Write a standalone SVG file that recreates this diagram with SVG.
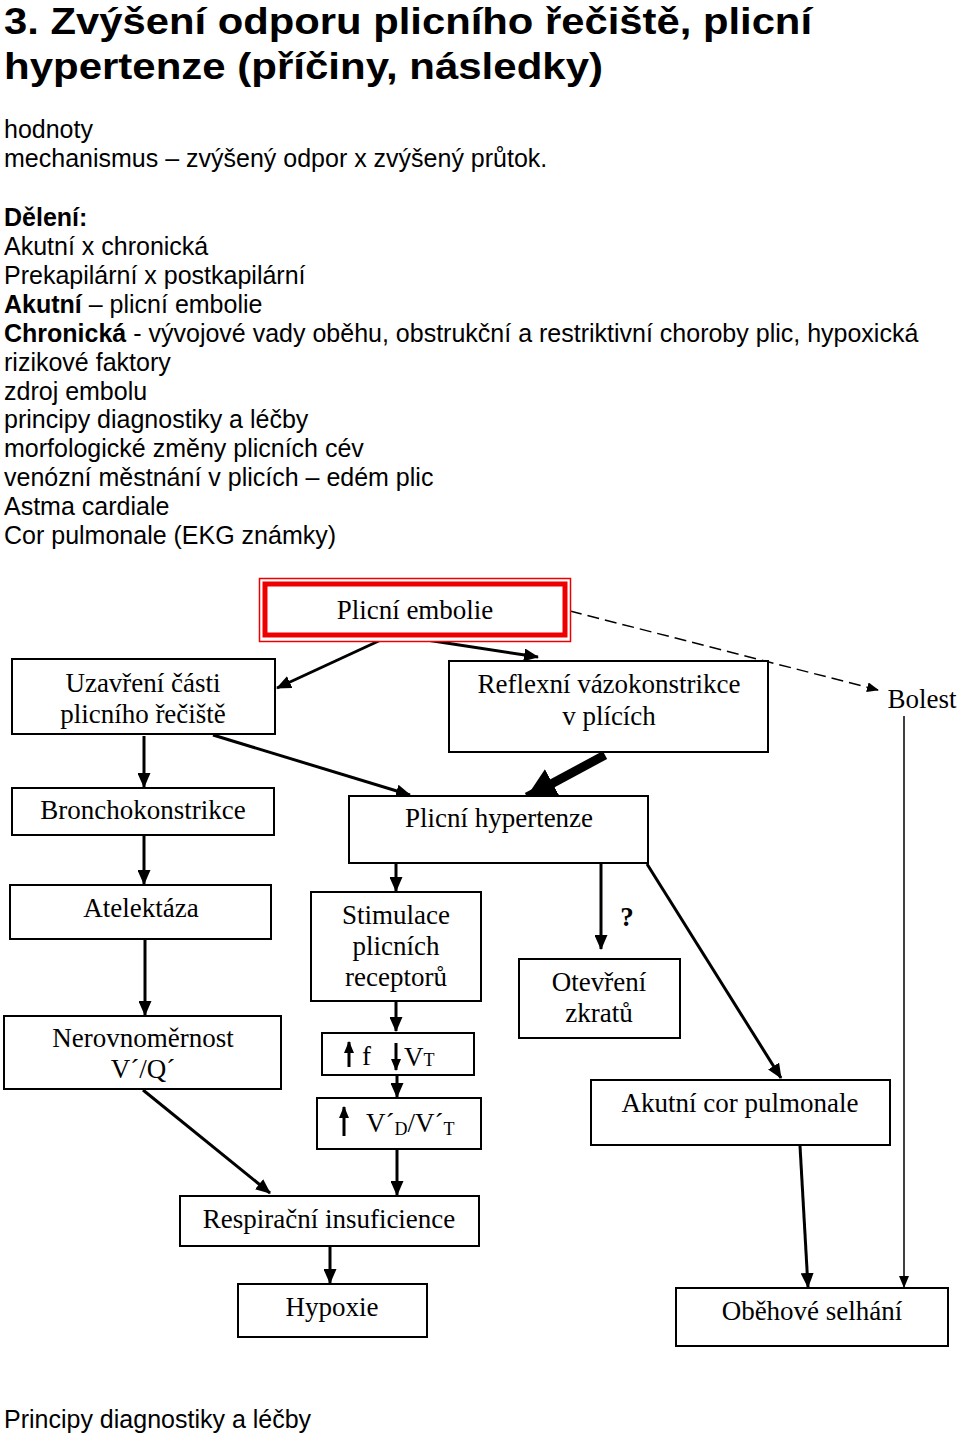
<svg xmlns="http://www.w3.org/2000/svg" width="960" height="1434" viewBox="0 0 960 1434">
<defs>
<style>
.h{font-family:"Liberation Sans",Arial,sans-serif;font-weight:bold;font-size:37px;fill:#000}
.b{font-family:"Liberation Sans",Arial,sans-serif;font-size:25px;fill:#000}
.bb{font-weight:bold}
.t{font-family:"Liberation Serif","Times New Roman",serif;font-size:27px;fill:#000;text-anchor:middle}
.box{fill:#fff;stroke:#000;stroke-width:2}
.c{fill:none;stroke:#000;stroke-width:3}
.thin{fill:none;stroke:#000;stroke-width:1.5}
</style>
<marker id="a" viewBox="0 0 15 13" refX="14" refY="6.5" markerWidth="15" markerHeight="13" markerUnits="userSpaceOnUse" orient="auto"><path d="M0,0 L15,6.5 L0,13 Z" fill="#000"/></marker>
<marker id="as" viewBox="0 0 12 10" refX="11" refY="5" markerWidth="12" markerHeight="10" markerUnits="userSpaceOnUse" orient="auto"><path d="M0,0 L12,5 L0,10 Z" fill="#000"/></marker>
<marker id="ab" viewBox="0 0 30 32" refX="29" refY="16" markerWidth="30" markerHeight="32" markerUnits="userSpaceOnUse" orient="auto"><path d="M0,0 L30,16 L0,32 Z" fill="#000"/></marker>
</defs>
<rect width="960" height="1434" fill="#fff"/>

<g id="header">
<text class="h" x="4" y="34" textLength="808" lengthAdjust="spacingAndGlyphs">3. Zvýšení odporu plicního řečiště, plicní</text>
<text class="h" x="4" y="79" textLength="599" lengthAdjust="spacingAndGlyphs">hypertenze (příčiny, následky)</text>
<text class="b" x="4" y="138">hodnoty</text>
<text class="b" x="4" y="167">mechanismus – zvýšený odpor x zvýšený průtok.</text>
<text class="b bb" x="4" y="226">Dělení:</text>
<text class="b" x="4" y="255">Akutní x chronická</text>
<text class="b" x="4" y="284">Prekapilární x postkapilární</text>
<text class="b" x="4" y="313"><tspan class="bb">Akutní</tspan> – plicní embolie</text>
<text class="b" x="4" y="342"><tspan class="bb">Chronická</tspan> - vývojové vady oběhu, obstrukční a restriktivní choroby plic, hypoxická</text>
<text class="b" x="4" y="371">rizikové faktory</text>
<text class="b" x="4" y="400">zdroj embolu</text>
<text class="b" x="4" y="428">principy diagnostiky a léčby</text>
<text class="b" x="4" y="457">morfologické změny plicních cév</text>
<text class="b" x="4" y="486">venózní městnání v plicích – edém plic</text>
<text class="b" x="4" y="515">Astma cardiale</text>
<text class="b" x="4" y="544">Cor pulmonale (EKG známky)</text>
<text class="b" x="4" y="1428">Principy diagnostiky a léčby</text>
</g>

<g id="connectors">
<line class="c" x1="383" y1="639" x2="277" y2="688" marker-end="url(#a)"/>
<line class="c" x1="420" y1="639" x2="538" y2="657" marker-end="url(#a)"/>
<line x1="570" y1="611" x2="878" y2="690" stroke="#000" stroke-width="1.5" stroke-dasharray="12,6" marker-end="url(#as)"/>
<line class="c" x1="213" y1="735" x2="410" y2="795" marker-end="url(#a)"/>
<line class="c" x1="144" y1="736" x2="144" y2="787" marker-end="url(#a)"/>
<line x1="605" y1="755" x2="527" y2="797" stroke="#000" stroke-width="9" marker-end="url(#ab)"/>
<line class="c" x1="144" y1="836" x2="144" y2="884" marker-end="url(#a)"/>
<line class="c" x1="145" y1="940" x2="145" y2="1015" marker-end="url(#a)"/>
<line class="c" x1="396" y1="864" x2="396" y2="891" marker-end="url(#a)"/>
<line class="c" x1="601" y1="864" x2="601" y2="949" marker-end="url(#a)"/>
<line class="c" x1="647" y1="864" x2="781" y2="1078" marker-end="url(#a)"/>
<line class="c" x1="396" y1="1002" x2="396" y2="1031" marker-end="url(#a)"/>
<line class="c" x1="397" y1="1076" x2="397" y2="1097" marker-end="url(#a)"/>
<line class="c" x1="397" y1="1150" x2="397" y2="1195" marker-end="url(#a)"/>
<line class="c" x1="143" y1="1090" x2="270" y2="1193" marker-end="url(#a)"/>
<line class="c" x1="330" y1="1247" x2="330" y2="1283" marker-end="url(#a)"/>
<line class="c" x1="800" y1="1146" x2="808" y2="1287" marker-end="url(#a)"/>
<line class="thin" x1="904" y1="716" x2="904" y2="1287" marker-end="url(#as)"/>
</g>

<g id="n-embolie">
<rect x="259.5" y="578.5" width="311" height="63" fill="#fff" stroke="#e00" stroke-width="1.5"/>
<rect x="265" y="584" width="300" height="51" fill="#fff" stroke="#e00" stroke-width="5"/>
<text class="t" x="415" y="619">Plicní embolie</text>
</g>
<g id="n-uzavreni">
<rect class="box" x="12" y="659" width="263" height="75"/>
<text class="t" x="143" y="692">Uzavření části</text>
<text class="t" x="143" y="723">plicního řečiště</text>
</g>
<g id="n-reflexni">
<rect class="box" x="449" y="661" width="319" height="91"/>
<text class="t" x="609" y="693">Reflexní vázokonstrikce</text>
<text class="t" x="609" y="725">v plících</text>
</g>
<g id="n-bolest">
<text class="t" x="922" y="708">Bolest</text>
</g>
<g id="n-broncho">
<rect class="box" x="12" y="788" width="262" height="47"/>
<text class="t" x="143" y="819">Bronchokonstrikce</text>
</g>
<g id="n-hypertenze">
<rect class="box" x="349" y="796" width="299" height="67"/>
<text class="t" x="499" y="827">Plicní hypertenze</text>
</g>
<g id="n-atelektaza">
<rect class="box" x="10" y="885" width="261" height="54"/>
<text class="t" x="141" y="917">Atelektáza</text>
</g>
<g id="n-stimulace">
<rect class="box" x="311" y="892" width="170" height="109"/>
<text class="t" x="396" y="924">Stimulace</text>
<text class="t" x="396" y="955">plicních</text>
<text class="t" x="396" y="986">receptorů</text>
</g>
<g id="n-q">
<text class="t" x="627" y="926" font-weight="bold">?</text>
</g>
<g id="n-otevreni">
<rect class="box" x="519" y="959" width="161" height="79"/>
<text class="t" x="599" y="991">Otevření</text>
<text class="t" x="599" y="1022">zkratů</text>
</g>
<g id="n-nerovnomernost">
<rect class="box" x="4" y="1016" width="277" height="73"/>
<text class="t" x="143" y="1047">Nerovnoměrnost</text>
<text class="t" x="143" y="1078">V´/Q´</text>
</g>
<g id="n-fvt">
<rect class="box" x="322" y="1033" width="152" height="42"/>
<line x1="349" y1="1067" x2="349" y2="1042" stroke="#000" stroke-width="3" marker-end="url(#as)"/>
<text class="t" x="362" y="1065" style="text-anchor:start">f</text>
<line x1="396" y1="1043" x2="396" y2="1070" stroke="#000" stroke-width="3" marker-end="url(#as)"/>
<text class="t" x="404" y="1066" style="text-anchor:start">V<tspan font-size="18">T</tspan></text>
</g>
<g id="n-vdvt">
<rect class="box" x="317" y="1098" width="164" height="51"/>
<line x1="344" y1="1136" x2="344" y2="1107" stroke="#000" stroke-width="3" marker-end="url(#as)"/>
<text class="t" x="366" y="1132" style="text-anchor:start">V´<tspan font-size="18" dy="3">D</tspan><tspan dy="-3">/V´</tspan><tspan font-size="18" dy="3">T</tspan></text>
</g>
<g id="n-acp">
<rect class="box" x="591" y="1080" width="299" height="65"/>
<text class="t" x="740" y="1112">Akutní cor pulmonale</text>
</g>
<g id="n-resp">
<rect class="box" x="180" y="1196" width="299" height="50"/>
<text class="t" x="329" y="1228">Respirační insuficience</text>
</g>
<g id="n-hypoxie">
<rect class="box" x="238" y="1284" width="189" height="53"/>
<text class="t" x="332" y="1316">Hypoxie</text>
</g>
<g id="n-obehove">
<rect class="box" x="676" y="1288" width="272" height="58"/>
<text class="t" x="812" y="1320">Oběhové selhání</text>
</g>
</svg>
